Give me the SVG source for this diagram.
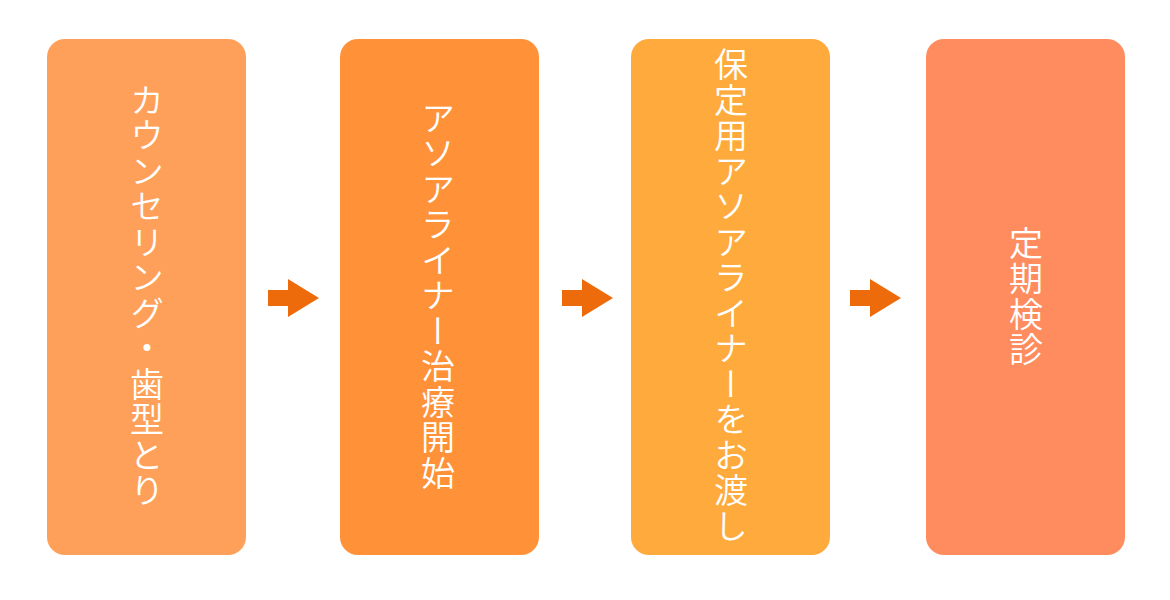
<svg xmlns="http://www.w3.org/2000/svg" width="1170" height="600" viewBox="0 0 1170 600">
  <style>
    .box { stroke: none; }
    .label { font-family: "Noto Sans CJK JP", "Noto Sans", sans-serif; font-weight: 350; font-size: 34px; fill: #ffffff; writing-mode: vertical-rl; text-anchor: middle; letter-spacing: 1.5px; }
    .arrow { fill: #EE6B0C; }
  </style>
  <defs>
    <polygon id="arr" points="0,11 20,11 20,0 51,19 20,38 20,27 0,27"/>
  </defs>
  <rect width="1170" height="600" fill="#ffffff"/>
  <g id="node1">
    <rect class="box" x="47" y="39" width="199" height="516" rx="18" fill="#FFA05A"/>
    <text class="label" x="147" y="296">カウンセリング・歯型とり</text>
  </g>
  <g id="node2">
    <rect class="box" x="340" y="39" width="199" height="516" rx="18" fill="#FF9139"/>
    <text class="label" x="438" y="296">アソアライナー治療開始</text>
  </g>
  <g id="node3">
    <rect class="box" x="631" y="39" width="199" height="516" rx="18" fill="#FFAA3C"/>
    <text class="label" x="731" y="296">保定用アソアライナーをお渡し</text>
  </g>
  <g id="node4">
    <rect class="box" x="926" y="39" width="199" height="516" rx="18" fill="#FF8C5F"/>
    <text class="label" x="1026" y="297">定期検診</text>
  </g>
  <g id="connectors" class="arrow">
    <use href="#arr" x="268" y="279"/>
    <use href="#arr" x="562" y="279"/>
    <use href="#arr" x="850" y="279"/>
  </g>
</svg>
